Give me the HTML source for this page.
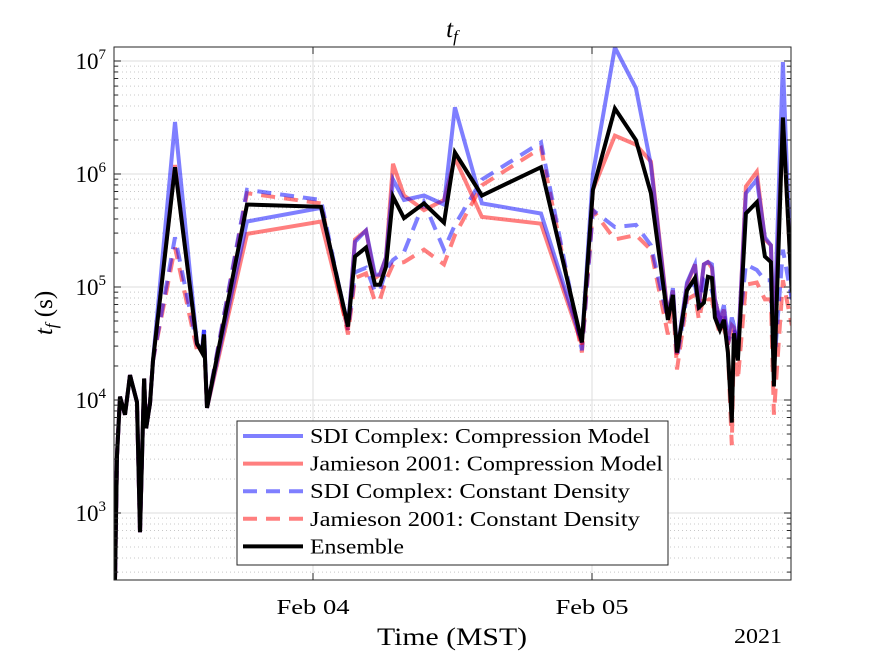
<!DOCTYPE html>
<html><head><meta charset="utf-8">
<style>
html,body{margin:0;padding:0;background:#fff;}
svg{display:block;font-family:"Liberation Serif",serif;}
</style></head>
<body>
<svg id="chart" width="875" height="656" viewBox="0 0 875 656">
<defs><clipPath id="clip"><rect x="114" y="47" width="677" height="533"/></clipPath></defs>
<rect x="0" y="0" width="875" height="656" fill="#fff"/>
<g id="grid"></g>
<g id="series" clip-path="url(#clip)"></g>
<rect x="114" y="47" width="677" height="533" fill="none" stroke="#262626" stroke-width="1"/>
<g id="ticks"></g>
<text x="452" y="37" text-anchor="middle" font-size="25" font-style="italic">t<tspan font-size="17" dy="5">f</tspan></text>
<text x="452" y="645" text-anchor="middle" font-size="25" textLength="150" lengthAdjust="spacingAndGlyphs">Time (MST)</text>
<text x="758" y="643" text-anchor="middle" font-size="21" textLength="48" lengthAdjust="spacingAndGlyphs">2021</text>
<text transform="translate(52,313) rotate(-90)" text-anchor="middle" font-size="25"><tspan font-style="italic">t</tspan><tspan font-style="italic" font-size="17" dy="5">f</tspan><tspan dy="-5"> (s)</tspan></text>
<g id="legend"></g>
</svg>
<script>
// time in hours since Feb 03 00:00 (MST)
const timeHours = [6.89,6.97,7.14,7.40,7.83,8.26,8.86,9.12,9.47,9.64,9.98,10.24,12.13,14.02,14.45,14.62,14.88,18.32,24.69,27.01,27.61,28.56,29.33,29.76,30.28,30.88,31.83,33.55,35.27,36.21,38.53,43.61,47.13,48.08,49.97,51.78,53.07,54.53,54.96,55.31,56.17,56.86,57.20,57.63,57.97,58.31,58.57,59.00,59.35,59.69,60.03,60.21,60.55,61.24,62.18,62.87,63.39,63.65,64.42,65.19];
// log10(t_f in seconds)
const ensembleLog = [3.20,2.41,3.51,4.03,3.87,4.22,3.98,2.83,4.19,3.75,3.97,4.35,6.06,4.50,4.42,4.58,3.93,5.73,5.71,4.65,5.27,5.35,5.02,5.02,5.18,5.80,5.61,5.74,5.57,6.19,5.81,6.06,4.51,5.86,6.58,6.30,5.83,4.71,4.93,4.42,4.97,5.08,4.82,4.86,5.09,5.08,4.73,4.62,4.71,4.42,3.80,4.59,4.35,5.65,5.75,5.27,5.22,4.12,6.50,4.95];
const sdiCompLog = [3.20,2.41,3.51,4.03,3.87,4.22,3.98,2.83,4.19,3.75,3.97,4.35,6.46,4.50,4.44,4.62,3.93,5.58,5.70,4.66,5.40,5.50,5.11,5.11,5.26,5.95,5.77,5.81,5.73,6.59,5.74,5.65,4.51,6.00,7.12,6.76,6.08,4.73,4.99,4.42,5.04,5.20,4.84,5.20,5.22,5.20,4.89,4.71,4.84,4.53,4.73,4.66,4.44,5.83,5.95,5.44,5.37,4.53,6.99,4.89];
const jamCompLog = [3.20,2.41,3.51,4.03,3.87,4.22,3.98,2.83,4.19,3.75,3.97,4.35,6.08,4.49,4.42,4.58,3.93,5.47,5.58,4.62,5.42,5.50,5.08,5.11,5.26,6.09,5.81,5.68,5.77,6.14,5.62,5.56,4.49,5.86,6.34,6.26,6.11,4.75,4.97,4.40,5.02,5.20,4.84,5.20,5.22,5.17,4.89,4.71,4.80,4.49,4.66,4.64,4.40,5.89,6.02,5.42,5.37,4.49,6.48,4.97];
const sdiConstLog = [3.20,2.41,3.51,4.03,3.87,4.22,3.98,2.83,4.19,3.75,3.97,4.35,5.44,4.49,4.44,4.62,3.93,5.86,5.77,4.62,5.13,5.17,4.96,4.97,5.15,5.24,5.31,5.75,5.33,5.55,5.95,6.28,4.44,5.68,5.53,5.55,5.37,4.71,4.93,4.37,4.93,5.02,4.80,5.06,5.02,4.97,4.84,4.71,4.78,4.49,4.62,4.62,4.53,5.20,5.15,5.06,5.06,4.27,5.33,4.89];
const jamConstLog = [3.20,2.41,3.51,4.03,3.87,4.22,3.98,2.83,4.19,3.75,3.97,4.35,5.35,4.44,4.42,4.58,3.93,5.83,5.74,4.58,5.08,5.12,4.87,4.89,5.06,5.20,5.22,5.33,5.20,5.46,5.90,6.23,4.42,5.68,5.42,5.46,5.33,4.58,4.89,4.27,4.89,4.93,4.71,4.93,4.89,4.89,4.75,4.58,4.66,4.44,3.60,4.53,4.18,5.02,5.04,4.89,4.89,3.87,5.06,4.66];
const xTickHours = [24,48];
const xTickLabels = ["Feb 04","Feb 05"];
const yTickExps = [3,4,5,6,7];
const legendLabels = ["SDI Complex: Compression Model","Jamieson 2001: Compression Model","SDI Complex: Constant Density","Jamieson 2001: Constant Density","Ensemble"];
const legendWidths = [340,353,320,330,94];

const NS="http://www.w3.org/2000/svg";
const X0=114,X1=791,Y0=47,Y1=580;
const hMin=24-199/279*24, hMax=48+199/279*24;
const lMin=3-67/113, lMax=7+14/113;
function xs(h){return X0+(h-hMin)/(hMax-hMin)*(X1-X0);}
function ys(l){return Y1-(l-lMin)/(lMax-lMin)*(Y1-Y0);}
function mk(tag,attrs,parent){const e=document.createElementNS(NS,tag);for(const k in attrs)e.setAttribute(k,attrs[k]);parent.appendChild(e);return e;}

const grid=document.getElementById('grid'),ticks=document.getElementById('ticks');
for(let d=2;d<=7;d++){for(let m=1;m<=9;m++){const l=d+Math.log10(m);if(l<lMin||l>lMax)continue;const y=ys(l);
 if(m===1){const g=mk('line',{x1:X0,x2:X1,y1:y,y2:y,stroke:'#dcdcdc','stroke-width':1},grid);
  
  
  const t1=mk('line',{x1:X0,x2:X0+7,y1:y,y2:y,stroke:'#262626'},ticks);
  
  
  mk('line',{x1:X1-7,x2:X1,y1:y,y2:y,stroke:'#262626'},ticks);
 } else {const g=mk('line',{x1:X0,x2:X1,y1:y,y2:y,stroke:'#c8c8c8','stroke-width':1,'stroke-dasharray':'1,3'},grid);
  
  
  mk('line',{x1:X0,x2:X0+4,y1:y,y2:y,stroke:'#262626'},ticks);
  mk('line',{x1:X1-4,x2:X1,y1:y,y2:y,stroke:'#262626'},ticks);}
}}
yTickExps.forEach(e=>{const t=mk('text',{x:X0-8,y:ys(e)+8,'text-anchor':'end','font-size':23},ticks);
 
 
 t.appendChild(document.createTextNode('10'));const s=mk('tspan',{'font-size':15,dy:-10},t);s.textContent=e;});
xTickHours.forEach((h,i)=>{const x=xs(h);
 const g=mk('line',{x1:x,x2:x,y1:Y0,y2:Y1,stroke:'#dcdcdc'},grid);
 
 
 mk('line',{x1:x,x2:x,y1:Y1-7,y2:Y1,stroke:'#262626'},ticks);
 mk('line',{x1:x,x2:x,y1:Y0,y2:Y0+7,stroke:'#262626'},ticks);
 const t=mk('text',{x:x,y:614,'text-anchor':'middle','font-size':21,textLength:73,lengthAdjust:'spacingAndGlyphs'},ticks);
 
 
 t.textContent=xTickLabels[i];});

const styles=[
 {d:sdiCompLog,c:'rgba(0,0,255,0.5)',dash:null,n:'sdi-compression-line'},
 {d:jamCompLog,c:'rgba(255,0,0,0.5)',dash:null,n:'jamieson-compression-line'},
 {d:sdiConstLog,c:'rgba(0,0,255,0.5)',dash:'14,9',n:'sdi-constant-density-line'},
 {d:jamConstLog,c:'rgba(255,0,0,0.5)',dash:'14,9',n:'jamieson-constant-density-line'},
 {d:ensembleLog,c:'#000',dash:null,n:'ensemble-line'}];
const sg=document.getElementById('series');
[3,2,1,0,4].forEach(i=>{const s=styles[i];
 const pts=s.d.map((v,j)=>xs(timeHours[j]).toFixed(1)+','+ys(v).toFixed(1)).join(' ');
 const a={points:pts,fill:'none',stroke:s.c,'stroke-width':4,'stroke-linejoin':'miter','stroke-miterlimit':4};
 if(s.dash)a['stroke-dasharray']=s.dash;
 const p=mk('polyline',a,sg);
 
 });

const lg=document.getElementById('legend');
const box=mk('rect',{x:237,y:421,width:431,height:144,fill:'#fff',stroke:'#262626','stroke-width':1},lg);


legendLabels.forEach((lab,i)=>{const s=styles[i];const y=436+i*27.6;
 const a={x1:243,x2:303,y1:y,y2:y,stroke:s.c,'stroke-width':4};
 if(s.dash)a['stroke-dasharray']='14,9';
 const l=mk('line',a,lg);
 
 
 const t=mk('text',{x:310,y:y+7,'font-size':21,textLength:legendWidths[i],lengthAdjust:'spacingAndGlyphs'},lg);
 
 
 t.textContent=lab;});
</script>
</body></html>
